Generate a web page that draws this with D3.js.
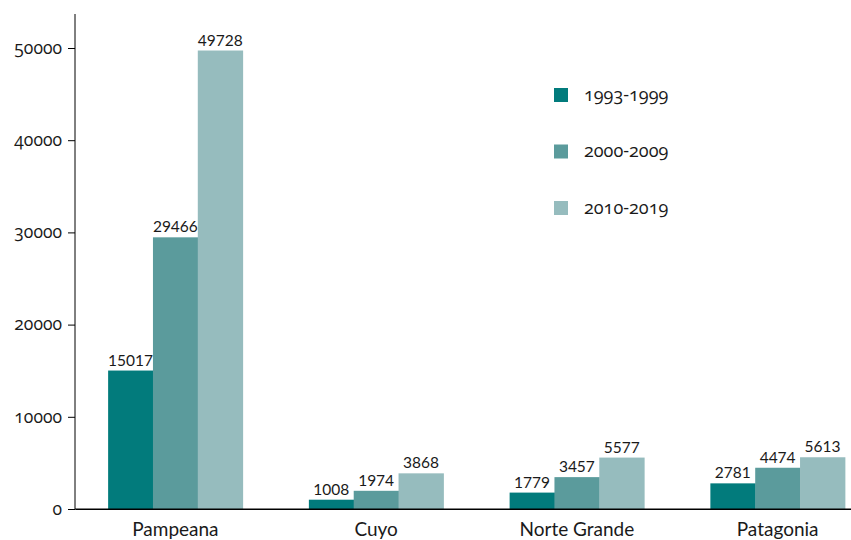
<!DOCTYPE html>
<html><head><meta charset="utf-8">
<script src="https://cdn.jsdelivr.net/npm/d3@7"></script>
<style>
body{margin:0;background:#fff;}
text{font-family:Lato,"Open Sans",sans-serif;fill:#1a1a1a;}
.onum{font-variant-numeric:oldstyle-nums;font-feature-settings:"onum" 1;}
</style></head>
<body><svg id="c" width="851" height="540"></svg>
<script>
const categories = ["Pampeana","Cuyo","Norte Grande","Patagonia"];
const seriesNames = ["1993-1999","2000-2009","2010-2019"];
const s1993 = [15017,1008,1779,2781];
const s2000 = [29466,1974,3457,4474];
const s2010 = [49728,3868,5577,5613];
const yTicks = [0,10000,20000,30000,40000,50000];
const colors = ["#027b7c","#5b9b9c","#96bcbe"];
const series = [s1993,s2000,s2010];

const svg = d3.select("#c");
const x0 = 75, yBase = 509;
const x = d3.scaleBand().domain(categories).range([x0, 878]).paddingInner(0.33).paddingOuter(0.165);
const xs = d3.scaleBand().domain(seriesNames).range([0, x.bandwidth()]);
const y = d3.scaleLinear().domain([0,10000]).range([yBase, yBase-92.2]);

// bars
seriesNames.forEach((s,i)=>{
  const g = svg.append("g");
  g.selectAll("rect").data(categories).join("rect")
    .attr("x", c=>x(c)+xs(s)).attr("width", xs.bandwidth()+0.5)
    .attr("y", (c,j)=>y(series[i][j])).attr("height",(c,j)=>yBase-y(series[i][j]))
    .attr("fill", colors[i]);
  g.selectAll("text").data(categories).join("text")
    .attr("x", c=>x(c)+xs(s)+xs.bandwidth()/2)
    .attr("y", (c,j)=>y(series[i][j])-5)
    .attr("text-anchor","middle").attr("font-size",15.5)
    .text((c,j)=>series[i][j]);
});

// y axis
const ya = svg.append("g").attr("transform",`translate(${x0},0)`)
  .call(d3.axisLeft(y).tickValues(yTicks).tickSize(7).tickFormat(d=>d));
ya.select(".domain").remove();
ya.selectAll("text").attr("class","onum").attr("font-size",17.5).attr("x",-13).attr("dy","0.3em")
  .style("font-family","'Open Sans', sans-serif").attr("font-weight",500);
ya.selectAll("line").attr("stroke","#000");
svg.append("line").attr("x1",x0).attr("x2",x0).attr("y1",14).attr("y2",yBase).attr("stroke","#000");

// x axis
const xa = svg.append("g").attr("transform",`translate(0,${yBase})`)
  .call(d3.axisBottom(x).tickSize(0).tickPadding(14));
xa.select(".domain").attr("stroke","#000");
xa.selectAll("text").attr("font-size",19).attr("dy","0.71em").style("font-family","Lato, sans-serif");
svg.append("line").attr("x1",x0).attr("x2",851).attr("y1",yBase).attr("y2",yBase).attr("stroke","#000");

// legend
const lg = svg.append("g");
seriesNames.forEach((s,i)=>{
  const yy = 95 + i*56.5;
  lg.append("rect").attr("x",554).attr("y",yy-7).attr("width",14).attr("height",14).attr("fill",colors[i]);
  lg.append("text").attr("class","onum").attr("x",584).attr("y",yy).attr("dy","0.32em")
    .attr("font-size",18).attr("font-weight",500).style("font-family","'Open Sans', sans-serif").text(s);
});
</script></body></html>
